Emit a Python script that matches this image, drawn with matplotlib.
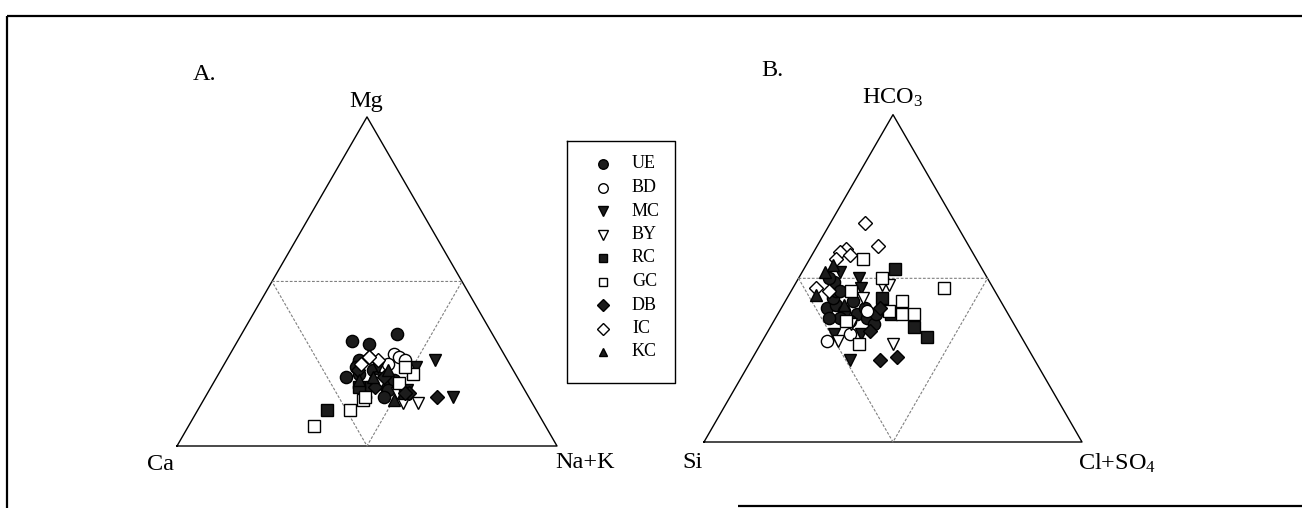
import numpy as np
import matplotlib
matplotlib.use("Agg")
import matplotlib.pyplot as plt

plt.rcParams['font.family'] = ['Liberation Serif', 'DejaVu Serif']
plt.rcParams['mathtext.fontset'] = 'custom'
plt.rcParams['mathtext.rm'] = 'Liberation Serif'
plt.rcParams['mathtext.default'] = 'regular'

# ---------------- data (percent) ----------------
series = ["UE", "BD", "MC", "BY", "RC", "GC", "DB", "IC", "KC"]

# Panel A: cations (Mg %, Na+K %) ; Ca = 100 - Mg - NaK
UE_A_Mg  = [32, 31, 34, 25, 21, 22, 23, 20, 18, 18, 20, 26, 24, 18, 21, 17, 15, 15]
UE_A_NaK = [30, 35, 41, 35, 34, 37, 40, 44, 46, 41, 47, 35, 35, 39, 42, 47, 47, 42]
BD_A_Mg  = [28, 27, 26, 25, 20]
BD_A_NaK = [43, 45, 47, 43, 42]
MC_A_Mg  = [26, 15, 24, 17, 24]
MC_A_NaK = [55, 65, 51, 52, 41]
BY_A_Mg  = [13, 13, 16, 19]
BY_A_NaK = [53, 57, 50, 44]
RC_A_Mg  = [11, 18, 16]
RC_A_NaK = [34, 39, 52]
GC_A_Mg  = [6, 11, 14, 15, 22, 19, 24]
GC_A_NaK = [33, 40, 42, 42, 51, 49, 48]
DB_A_Mg  = [15, 16, 18, 23, 21, 16]
DB_A_NaK = [61, 53, 43, 36, 44, 52]
IC_A_Mg  = [27, 26, 25, 27]
IC_A_NaK = [37, 40, 36, 37]
KC_A_Mg  = [14, 21, 20, 23]
KC_A_NaK = [50, 41, 38, 44]

# Panel B: anions (HCO3 %, Cl+SO4 %) ; Si = 100 - HCO3 - ClSO4
UE_B_HCO3 = [41, 42, 40, 39, 38, 38, 44, 46, 49, 50, 37, 36, 43, 41, 39, 38, 46]
UE_B_Cl   = [12, 14, 17, 21, 24, 17, 12, 12, 10, 8, 20, 27, 18, 22, 26, 14, 13]
BD_B_HCO3 = [31, 33, 40]
BD_B_Cl   = [17, 22, 23]
MC_B_HCO3 = [50, 47, 25, 33, 33, 52]
MC_B_Cl   = [16, 18, 26, 18, 25, 10]
BY_B_HCO3 = [44, 48, 48, 30, 31, 36]
BY_B_Cl   = [20, 23, 25, 35, 20, 21]
RC_B_HCO3 = [53, 35, 32, 44, 39]
RC_B_Cl   = [24, 38, 43, 25, 30]
GC_B_HCO3 = [56, 50, 46, 47, 43, 40, 39, 39, 30, 37]
GC_B_Cl   = [14, 22, 16, 40, 31, 29, 33, 36, 26, 19]
DB_B_HCO3 = [25, 26, 34, 41]
DB_B_Cl   = [34, 38, 27, 26]
IC_B_HCO3 = [67, 60, 59, 58, 57, 56, 47, 46]
IC_B_Cl   = [9, 16, 8, 7, 10, 7, 6, 10]
KC_B_HCO3 = [45, 52, 54, 42]
KC_B_Cl   = [7, 6, 7, 16]

panelA = {"UE": (UE_A_Mg, UE_A_NaK), "BD": (BD_A_Mg, BD_A_NaK),
          "MC": (MC_A_Mg, MC_A_NaK), "BY": (BY_A_Mg, BY_A_NaK),
          "RC": (RC_A_Mg, RC_A_NaK), "GC": (GC_A_Mg, GC_A_NaK),
          "DB": (DB_A_Mg, DB_A_NaK), "IC": (IC_A_Mg, IC_A_NaK),
          "KC": (KC_A_Mg, KC_A_NaK)}
panelB = {"UE": (UE_B_HCO3, UE_B_Cl), "BD": (BD_B_HCO3, BD_B_Cl),
          "MC": (MC_B_HCO3, MC_B_Cl), "BY": (BY_B_HCO3, BY_B_Cl),
          "RC": (RC_B_HCO3, RC_B_Cl), "GC": (GC_B_HCO3, GC_B_Cl),
          "DB": (DB_B_HCO3, DB_B_Cl), "IC": (IC_B_HCO3, IC_B_Cl),
          "KC": (KC_B_HCO3, KC_B_Cl)}

FILL = '#1c1c1c'
styles = {
    "UE": dict(marker='o', mfc=FILL, mec='black'),
    "BD": dict(marker='o', mfc='white', mec='black'),
    "MC": dict(marker='v', mfc=FILL, mec='black'),
    "BY": dict(marker='v', mfc='white', mec='black'),
    "RC": dict(marker='s', mfc=FILL, mec='black'),
    "GC": dict(marker='s', mfc='white', mec='black'),
    "DB": dict(marker='D', mfc=FILL, mec='black'),
    "IC": dict(marker='D', mfc='white', mec='black'),
    "KC": dict(marker='^', mfc=FILL, mec='black'),
}
sizes = {'o': 8.8, 'v': 8.8, 's': 8.2, 'D': 7.2, '^': 8.2}

S3 = np.sqrt(3) / 2


def tern(top, right):
    t = np.asarray(top, float) / 100.0
    r = np.asarray(right, float) / 100.0
    return r + t / 2.0, t * S3


W, H = 1302, 508
fig = plt.figure(figsize=(W / 100, H / 100), dpi=100)

# overlay axes in pixel coordinates for frame / labels / legend
ov = fig.add_axes([0, 0, 1, 1])
ov.set_xlim(0, W)
ov.set_ylim(H, 0)
ov.axis('off')
ov.plot([7, W], [16, 16], color='black', lw=1.6, solid_capstyle='butt')
ov.plot([7, 7], [16, H], color='black', lw=1.6, solid_capstyle='butt')
ov.plot([738, W], [506, 506], color='black', lw=1.6, solid_capstyle='butt')


def make_tri(left_px, base_px, width_px):
    hpx = width_px * S3
    ax = fig.add_axes([left_px / W, (H - base_px) / H, width_px / W, hpx / H])
    ax.set_xlim(0, 1)
    ax.set_ylim(0, S3)
    ax.axis('off')
    ax.plot([0, 1, 0.5, 0], [0, 0, S3, 0], color='black', lw=1.0, clip_on=False)
    ax.plot([0.25, 0.75, 0.5, 0.25], [S3 / 2, S3 / 2, 0, S3 / 2], color='#808080',
            lw=0.8, ls=(0, (2.5, 1.5)), clip_on=False)
    return ax


axA = make_tri(177, 446, 380)
axB = make_tri(704, 442, 378)

for ax, data in ((axA, panelA), (axB, panelB)):
    for name in series:
        top, right = data[name]
        x, y = tern(top, right)
        st = styles[name]
        ax.plot(x, y, ls='none', marker=st['marker'], ms=sizes[st['marker']],
                mfc=st['mfc'], mec=st['mec'], mew=1.0, clip_on=False)

# labels
fs = 17.5
ov.text(205, 74, "A.", fontsize=fs, ha='center', va='center')
ov.text(772, 70, "B.", fontsize=fs, ha='center', va='center')
ov.text(366, 101, "Mg", fontsize=fs, ha='center', va='center')
ov.text(160, 465, "Ca", fontsize=fs, ha='center', va='center')
ov.text(585, 463, "Na+K", fontsize=fs, ha='center', va='center')
ov.text(893, 98, "HCO$_3$", fontsize=fs, ha='center', va='center')
ov.text(692, 463, "Si", fontsize=fs, ha='center', va='center')
ov.text(1117, 463, "Cl+SO$_4$", fontsize=fs, ha='center', va='center')

# legend (manual box)
ov.plot([567, 675, 675, 567, 567], [141, 141, 383, 383, 141], color='black', lw=1.0)
for i, name in enumerate(series):
    yy = 164 + i * 23.5
    st = styles[name]
    ov.plot([603], [yy], ls='none', marker=st['marker'], ms=sizes[st['marker']] * 0.78,
            mfc=st['mfc'], mec=st['mec'], mew=1.0)
    ov.text(632, yy, name, fontsize=13, ha='left', va='center')

fig.savefig("out.png", dpi=100)
